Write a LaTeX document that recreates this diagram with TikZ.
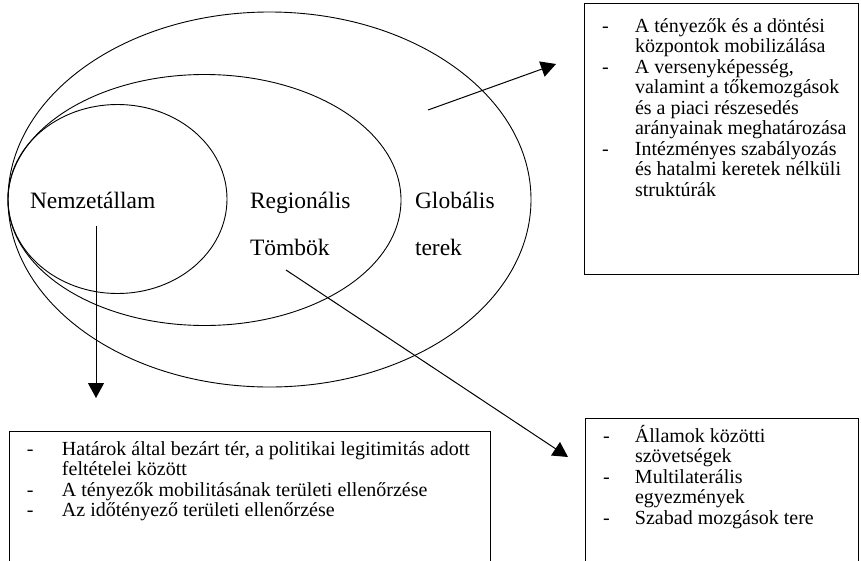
\documentclass[tikz,border=0pt]{standalone}
\usepackage{fontspec}
\setmainfont{Liberation Serif}
\usetikzlibrary{arrows.meta}

\begin{document}
\begin{tikzpicture}[x=1pt,y=-1pt,line width=0.9pt]
\tikzstyle{every node}=[inner sep=0pt,outer sep=0pt]
\tikzstyle{felirat}=[anchor=base west,align=left,font=\fontsize{23.5}{47}\selectfont]
\tikzstyle{lista}=[anchor=base west,font=\fontsize{20}{20.5}\selectfont]
\tikzstyle{doboz}=[draw,line width=1pt]
\tikzstyle{nyil}=[line width=1pt,-{Triangle[width=16pt,length=15pt]}]
\useasboundingbox (0,0) rectangle (861,560);
%ellipszisek
\draw (269.5,199.5) ellipse [x radius=261.5, y radius=187.5];
\draw (204.5,200) ellipse [x radius=196.5, y radius=125.5];
\draw (117.5,199) ellipse [x radius=109.5, y radius=94.5];
%feliratok
\node[felirat] (nemzet) at (30,208) {Nemzetállam};
\node[felirat] (regio) at (250,255) {Regionális\\Tömbök};
\node[felirat] (glob) at (415,255) {Globális\\terek};
%dobozok
\draw[doboz] (584,3) rectangle (858,274);
\draw[doboz] (9,431) rectangle (490,580);
\draw[doboz] (585,418) rectangle (858,580);
\node[lista] (glista) at (602,32) {\begin{tabular}[t]{@{}p{33pt}@{}l@{}}
-& A tényezők és a döntési\\
 & központok mobilizálása\\
-& A versenyképesség,\\
 & valamint a tőkemozgások\\
 & és a piaci részesedés\\
 & arányainak meghatározása\\
-& Intézményes szabályozás\\
 & és hatalmi keretek nélküli\\
 & struktúrák
\end{tabular}};
\node[lista] (nlista) at (27,455) {\begin{tabular}[t]{@{}p{35pt}@{}l@{}}
-& Határok által bezárt tér, a politikai legitimitás adott\\
 & feltételei között\\
-& A tényezők mobilitásának területi ellenőrzése\\
-& Az időtényező területi ellenőrzése
\end{tabular}};
\node[lista] (rlista) at (603,442) {\begin{tabular}[t]{@{}p{32pt}@{}l@{}}
-& Államok közötti\\
 & szövetségek\\
-& Multilaterális\\
 & egyezmények\\
-& Szabad mozgások tere
\end{tabular}};
%nyilak
\coordinate (g1) at (428,110);
\coordinate (g2) at (556,64);
\coordinate (n1) at (96,226);
\coordinate (n2) at (96,398);
\coordinate (r1) at (286,270);
\coordinate (r2) at (568,457);
\draw[nyil] (g1) -- (g2);
\draw[nyil] (n1) -- (n2);
\draw[nyil] (r1) -- (r2);
\end{tikzpicture}
\end{document}
